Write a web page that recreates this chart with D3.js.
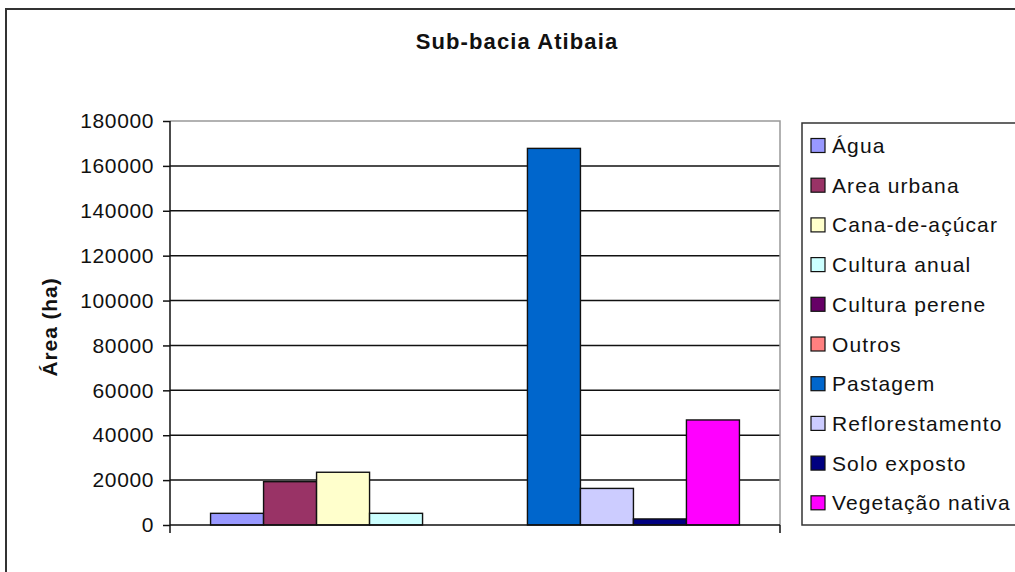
<!DOCTYPE html>
<html>
<head>
<meta charset="utf-8">
<script src="https://cdn.jsdelivr.net/npm/d3@7"></script>
<style>
  html, body { margin: 0; padding: 0; background: #fff; }
  svg { display: block; font-family: "Liberation Sans", Arial, sans-serif; }
</style>
</head>
<body>
<svg id="chart" width="1015" height="572"></svg>
<script>
// Land-use classes (legend order), colours and area in hectares
const seriesNames = ["Água", "Area urbana", "Cana-de-açúcar", "Cultura anual", "Cultura perene",
                     "Outros", "Pastagem", "Reflorestamento", "Solo exposto", "Vegetação nativa"];
const seriesColors = ["#9999FF", "#993366", "#FFFFCC", "#CCFFFF", "#660066",
                      "#FF8080", "#0066CC", "#CCCCFF", "#000080", "#FF00FF"];
const areaHa = [5200, 19300, 23500, 5200, 0, 0, 167800, 16300, 2700, 46800];
// Which cluster each class is drawn in (classes without area are not drawn)
const clusters = [0, 1];
const clusterMembers = [
  ["Água", "Area urbana", "Cana-de-açúcar", "Cultura anual"],
  ["Pastagem", "Reflorestamento", "Solo exposto", "Vegetação nativa"]
];
const yTicks = [0, 20000, 40000, 60000, 80000, 100000, 120000, 140000, 160000, 180000];

const svg = d3.select("#chart");

// Outer chart frame
svg.append("rect")
  .attr("x", 6).attr("y", 9).attr("width", 1040).attr("height", 600)
  .attr("fill", "#fff").attr("stroke", "#333").attr("stroke-width", 2);

// Title
svg.append("text")
  .attr("x", 517).attr("y", 49)
  .attr("text-anchor", "middle")
  .attr("font-size", 22).attr("font-weight", "bold")
  .attr("letter-spacing", 1.1)
  .attr("fill", "#111")
  .text("Sub-bacia Atibaia");

const plot = { left: 170, right: 780, top: 121, bottom: 525 };

const y = d3.scaleLinear().domain([0, 180000]).range([plot.bottom, plot.top]);
const x0 = d3.scaleBand().domain(clusters).range([plot.left, plot.right])
  .paddingInner(0.331).paddingOuter(0.128);
const x1 = d3.scaleBand().domain(d3.range(4)).range([0, x0.bandwidth()]);

// Horizontal gridlines
svg.append("g").selectAll("line")
  .data(yTicks.filter(t => t > 0 && t < 180000))
  .join("line")
  .attr("x1", plot.left).attr("x2", plot.right)
  .attr("y1", d => y(d)).attr("y2", d => y(d))
  .attr("stroke", "#111").attr("stroke-width", 1.5);

// Plot frame (top and right in grey)
svg.append("path")
  .attr("d", `M${plot.left},${plot.top}H${plot.right}V${plot.bottom}`)
  .attr("fill", "none").attr("stroke", "#999").attr("stroke-width", 1.5);

// Bars
const valueOf = name => areaHa[seriesNames.indexOf(name)];
const colorOf = name => seriesColors[seriesNames.indexOf(name)];
clusters.forEach(c => {
  svg.append("g")
    .attr("transform", `translate(${x0(c)},0)`)
    .selectAll("rect")
    .data(clusterMembers[c])
    .join("rect")
    .attr("x", (d, i) => x1(i))
    .attr("width", x1.bandwidth())
    .attr("y", d => y(valueOf(d)))
    .attr("height", d => plot.bottom - y(valueOf(d)))
    .attr("fill", d => colorOf(d))
    .attr("stroke", "#111").attr("stroke-width", 1.4);
});

// Y axis
const yAxis = svg.append("g")
  .attr("transform", `translate(${plot.left},0)`)
  .call(d3.axisLeft(y).tickValues(yTicks).tickSize(7).tickPadding(9).tickFormat(d3.format("d")));
yAxis.select(".domain").attr("stroke", "#111").attr("stroke-width", 1.5)
  .attr("d", `M0,${plot.top}V${plot.bottom + 8}`);
yAxis.selectAll(".tick line").attr("stroke", "#111").attr("stroke-width", 1.5);
yAxis.selectAll(".tick text")
  .attr("font-size", 21).attr("letter-spacing", 0.6)
  .attr("font-family", "'Liberation Sans', Arial, sans-serif")
  .attr("fill", "#111");

// X axis baseline with end ticks only
svg.append("path")
  .attr("d", `M${plot.left},${plot.bottom}H${plot.right}M${plot.right},${plot.bottom}V${plot.bottom + 8}`)
  .attr("fill", "none").attr("stroke", "#111").attr("stroke-width", 1.5);

// Y axis title
svg.append("text")
  .attr("transform", "translate(57,327) rotate(-90)")
  .attr("text-anchor", "middle")
  .attr("font-size", 21).attr("font-weight", "bold")
  .attr("letter-spacing", 0.9)
  .attr("fill", "#111")
  .text("Área (ha)");

// Legend
const legend = svg.append("g");
legend.append("rect")
  .attr("x", 802).attr("y", 123).attr("width", 260).attr("height", 402)
  .attr("fill", "#fff").attr("stroke", "#333").attr("stroke-width", 1.5);
const rows = legend.selectAll("g.row")
  .data(seriesNames)
  .join("g").attr("class", "row")
  .attr("transform", (d, i) => `translate(0,${145.5 + i * 39.7})`);
rows.append("rect")
  .attr("x", 811).attr("y", -7).attr("width", 14).attr("height", 14)
  .attr("fill", (d, i) => seriesColors[i])
  .attr("stroke", "#111").attr("stroke-width", 1.2);
rows.append("text")
  .attr("x", 832).attr("y", 7.5)
  .attr("font-size", 21).attr("letter-spacing", 1.1)
  .attr("fill", "#111")
  .text(d => d);
</script>
</body>
</html>
